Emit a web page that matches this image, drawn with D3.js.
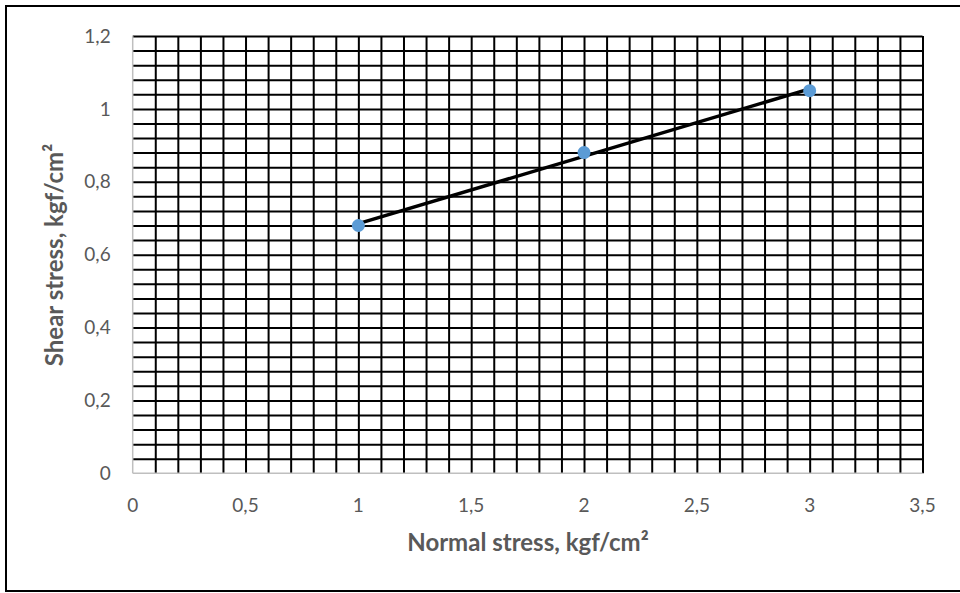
<!DOCTYPE html>
<html lang="en">

<head>
    <meta charset="utf-8">
    <!-- Load d3.js -->
    <script src="https://d3js.org/d3.v7.min.js"></script>
    <style>
        body {
            margin: 0;
            background: white;
        }

        .tick-label {
            font-family: Lato, "Open Sans", sans-serif;
            font-size: 19px;
            fill: #595959;
        }

        .axis-title {
            font-family: Lato, "Open Sans", sans-serif;
            font-size: 24px;
            font-weight: bold;
            fill: #595959;
        }

        .grid line {
            stroke: black;
            stroke-width: 2px;
        }
    </style>
</head>

<body>
    <div id="my_dataviz"></div>

    <script>
        // data
        const normalStress = [1, 2, 3];
        const shearStress = [0.68, 0.88, 1.05];

        // linear trendline end points
        const trendX = [1, 3];
        const trendY = [0.685, 1.055];

        // tick labels
        const xTicks = [0, 0.5, 1, 1.5, 2, 2.5, 3, 3.5];
        const yTicks = [0, 0.2, 0.4, 0.6, 0.8, 1, 1.2];

        const W = 960, H = 593;
        const margin = { top: 36, right: 37.5, bottom: 119.7, left: 132.7 },
            width = W - margin.left - margin.right,
            height = H - margin.top - margin.bottom;

        const svg = d3.select("#my_dataviz")
            .append("svg")
            .attr("width", W)
            .attr("height", H);

        // outer chart border (right side runs off the page)
        svg.append("rect")
            .attr("x", 6)
            .attr("y", 6)
            .attr("width", W)
            .attr("height", 585)
            .attr("fill", "white")
            .attr("stroke", "black")
            .attr("stroke-width", 2);

        const g = svg.append("g")
            .attr("transform", `translate(${margin.left},${margin.top})`);

        const x = d3.scaleLinear()
            .domain([0, 3.5])
            .range([0, width]);

        const y = d3.scaleLinear()
            .domain([0, 1.2])
            .range([height, 0]);

        const fmt = d => String(d).replace(".", ",");

        // grid: every 0.1 on x, every 0.04 on y
        g.append("g")
            .attr("class", "grid")
            .attr("transform", `translate(0,${height})`)
            .call(d3.axisBottom(x)
                .tickValues(d3.range(1, 36).map(i => i / 10))
                .tickSize(-height)
                .tickFormat(""))
            .call(s => s.select(".domain").remove());

        g.append("g")
            .attr("class", "grid")
            .call(d3.axisLeft(y)
                .tickValues(d3.range(1, 31).map(i => i * 0.04))
                .tickSize(-width)
                .tickFormat(""))
            .call(s => s.select(".domain").remove());

        // axes lines (grey)
        g.append("line")
            .attr("x1", 0).attr("x2", width)
            .attr("y1", height).attr("y2", height)
            .attr("stroke", "#bfbfbf")
            .attr("stroke-width", 1.5);

        g.append("line")
            .attr("x1", 0).attr("x2", 0)
            .attr("y1", 0).attr("y2", height)
            .attr("stroke", "#bfbfbf")
            .attr("stroke-width", 1.5);

        // tick labels
        g.selectAll(".xlab")
            .data(xTicks)
            .join("text")
            .attr("class", "tick-label")
            .attr("x", d => x(d))
            .attr("y", height + 39)
            .attr("text-anchor", "middle")
            .text(fmt);

        g.selectAll(".ylab")
            .data(yTicks)
            .join("text")
            .attr("class", "tick-label")
            .attr("x", -22)
            .attr("y", d => y(d))
            .attr("dy", "0.35em")
            .attr("text-anchor", "end")
            .text(fmt);

        // axis titles
        g.append("text")
            .attr("class", "axis-title")
            .attr("text-anchor", "middle")
            .attr("x", 528 - margin.left)
            .attr("y", 551 - margin.top)
            .text("Normal stress, kgf/cm²");

        g.append("text")
            .attr("class", "axis-title")
            .attr("text-anchor", "middle")
            .attr("transform", `translate(${63 - margin.left},${255 - margin.top}) rotate(-90)`)
            .text("Shear stress, kgf/cm²");

        // trendline
        g.append("line")
            .attr("x1", x(trendX[0]))
            .attr("y1", y(trendY[0]))
            .attr("x2", x(trendX[1]))
            .attr("y2", y(trendY[1]))
            .attr("stroke", "black")
            .attr("stroke-width", 3.5);

        // data points
        g.append("g")
            .selectAll("circle")
            .data(normalStress)
            .join("circle")
            .attr("cx", d => x(d))
            .attr("cy", (d, i) => y(shearStress[i]))
            .attr("r", 6.5)
            .style("fill", "#5b9bd5");
    </script>

</body>

</html>
